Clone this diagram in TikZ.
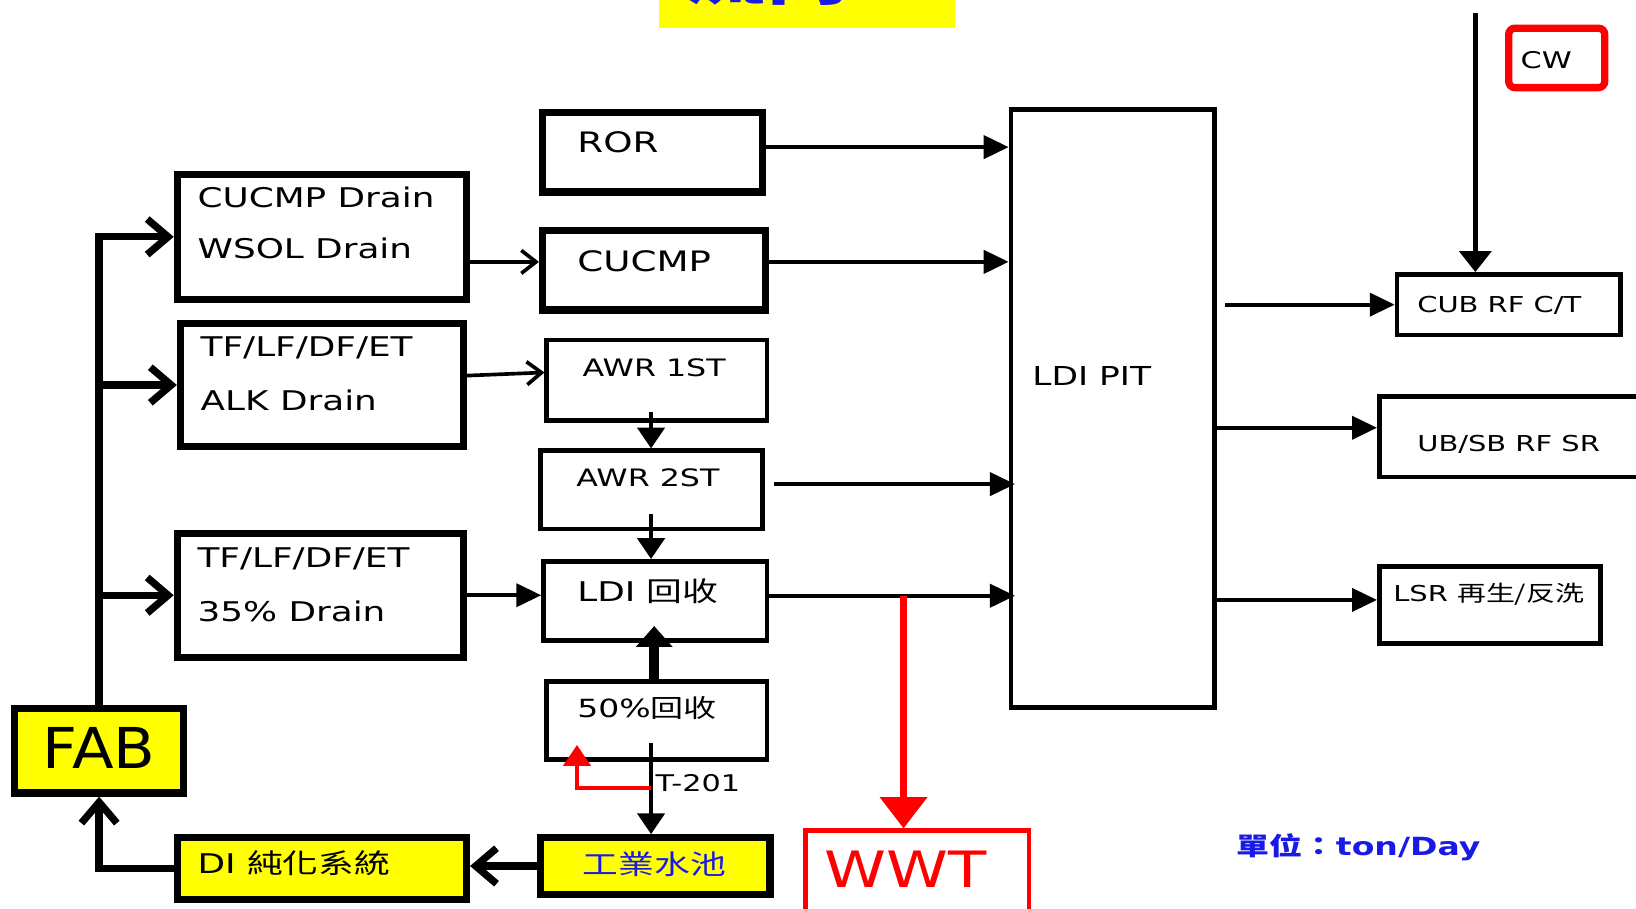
\documentclass[tikz,border=0pt]{standalone}
\usepackage{fontspec}
\setmainfont{DejaVu Sans}[FakeStretch=1.32]
\newfontfamily\cjk{Noto Sans CJK TC}[FakeStretch=1.32]
\newfontfamily\fabfont{DejaVu Sans}[FakeStretch=1.08]
\newfontfamily\widefont{DejaVu Sans}[FakeStretch=1.25]
\usetikzlibrary{arrows.meta,fit}
\definecolor{ylw}{HTML}{FFFF00}
\definecolor{bluetxt}{HTML}{1A1AE6}
\definecolor{rd}{HTML}{FF0000}
\begin{document}
\begin{tikzpicture}[x=0.5pt,y=-0.5pt,
  thickbox/.style={draw=black, line width=3.5pt, inner sep=0pt},
  thinbox/.style={draw=black, line width=2.2pt, inner sep=0pt},
  lbl/.style={inner sep=0pt, anchor=base west, text=black},
  fs/.style={font=\fontsize{#1}{#1}\selectfont},
  bus/.style={line width=3.5pt, -{Straight Barb[length=10pt,width=17pt]}},
  openthin/.style={line width=1.75pt, -{Straight Barb[length=7pt,width=11pt]}},
  flow/.style={line width=2pt, -{Triangle[length=12pt,width=11pt]}},
  vflow/.style={line width=2pt, -{Triangle[length=10pt,width=13pt]}},
  uparrow/.style={line width=5pt, -{Triangle[length=10pt,width=17pt]}},
  redsmall/.style={draw=rd, line width=2pt, -{Triangle[length=10pt,width=13pt]}},
  redbig/.style={draw=rd, line width=3.5pt, -{Triangle[length=15pt,width=22pt]}},
  cwflow/.style={line width=2.5pt, -{Triangle[length=10pt,width=15pt]}}]
\useasboundingbox (0,0) rectangle (1568,871);
\clip (0,0) rectangle (1568,871);

% title (cut off at top)
\fill[ylw] (632,-60) rectangle (915,27);
\node[inner sep=0pt, anchor=base, text=bluetxt, font=\cjk\bfseries\fontsize{30}{30}\selectfont] (title) at (774,0) {流向：};

% boxes
\node[thickbox, fit={(170,167)(447,287)}] (cdr) {};
\node[thickbox, fit={(173,310)(444,428)}] (alk) {};
\node[thickbox, fit={(170,511)(444,630)}] (d35) {};
\node[thickbox, fit={(520,108)(731,184)}] (ror) {};
\node[thickbox, fit={(520,221)(734,297)}] (cucmp) {};
\node[thickbox, fill=ylw, fit={(14,679)(176,760)}] (fab) {};
\node[thickbox, fill=ylw, fit={(170,803)(447,862)}] (di) {};
\node[thickbox, fill=ylw, fit={(518,803)(738,857)}] (pool) {};
\node[thinbox, fit={(524,326)(735,403)}] (awr1) {};
\node[thinbox, fit={(518,432)(731,507)}] (awr2) {};
\node[thinbox, fit={(521,538)(735,614)}] (ldir) {};
\node[thinbox, fit={(524,653)(735,728)}] (r50) {};
\node[thinbox, fit={(969,105)(1164,678)}] (pit) {};
\node[thinbox, fit={(1339,263)(1553,321)}] (cub) {};
\node[thinbox, fit={(1322,380)(1582,457)}] (ubsb) {};
\node[thinbox, fit={(1322,543)(1534,617)}] (lsr) {};
\node[draw=rd, line width=2pt, inner sep=0pt, fit={(772,796)(986,884)}] (wwt) {};
\node[draw=rd, line width=3.5pt, rounded corners=3pt, inner sep=0pt, fit={(1446,27)(1538,84)}] (cw) {};

% texts
\node[lbl, fs=13] (t-cdr1) at (189,198.5) {CUCMP Drain};
\node[lbl, fs=13] (t-cdr2) at (189,247.5) {WSOL Drain};
\node[lbl, fs=13] (t-alk1) at (192,341.5) {TF/LF/DF/ET};
\node[lbl, fs=13] (t-alk2) at (192,393.5) {ALK Drain};
\node[lbl, fs=13] (t-d351) at (189,543.5) {TF/LF/DF/ET};
\node[lbl, fs=13] (t-d352) at (189,595.5) {35\% Drain};
\node[lbl, fs=13.5] (t-ror) at (553,146.5) {ROR};
\node[lbl, fs=13.5] (t-cucmp) at (553,260) {CUCMP};
\node[lbl, fs=11.5, anchor=base] (t-awr1) at (627,360.5) {AWR 1ST};
\node[lbl, fs=11.5, anchor=base] (t-awr2) at (621,466.5) {AWR 2ST};
\node[lbl, fs=13] (t-ldir) at (553,576.5) {LDI {\cjk 回收}};
\node[lbl, fs=12] (t-r50) at (553,688) {50\%{\cjk 回收}};
\node[lbl, fs=13, anchor=base, text=bluetxt] (t-pool) at (627,838) {\cjk 工業水池};
\node[lbl, fs=13] (t-di) at (189,837.5) {DI {\cjk 純化系統}};
\node[lbl, anchor=base, font=\fabfont\fontsize{27}{27}\selectfont] (t-fab) at (95,737) {FAB};
\node[lbl, text=rd, font=\widefont\fontsize{24}{24}\selectfont] (t-wwt) at (790,850.5) {WWT};
\node[lbl, fs=12.5] (t-pit) at (989,369) {LDI PIT};
\node[lbl, fs=11] (t-cw) at (1457,66) {CW};
\node[lbl, fs=10.5] (t-cub) at (1358,299.7) {CUB RF C/T};
\node[lbl, fs=10.5] (t-ubsb) at (1358,432.7) {UB/SB RF SR};
\node[lbl, fs=10.5] (t-lsr) at (1335,576.7) {LSR {\cjk 再生/反洗}};
\node[lbl, fs=12, text=bluetxt] (t-unit) at (1185,820) {{\cjk\bfseries 單位：}{\bfseries ton/Day}};

% left bus
\draw[bus] (fab.north) |- (cdr.west);
\draw[bus] (fab.north |- alk.west) -- (alk.west);
\draw[bus] (fab.north |- d35.west) -- (d35.west);
\draw[bus] (di.west) -| (fab.south);
\draw[bus] (pool.west) -- (pool.west -| di.east);

% drains to treatment
\coordinate (cin) at ([yshift=4pt]cucmp.west);
\draw[openthin] (cdr.east |- cin) -- (cin);
\draw[openthin] ([yshift=4.5pt]alk.east) -- ([yshift=3.75pt]awr1.west);
\draw[flow] (d35.east) -- (d35.east -| ldir.west);

% middle column
\coordinate (a1s) at (624,395);
\coordinate (a2s) at (624,493);
\draw[vflow] (a1s) -- (a1s |- awr2.north);
\draw[vflow] (a2s) -- (a2s |- ldir.north);
\coordinate (upt) at (627,600);
\draw[uparrow] (upt |- r50.north) -- (upt);
\coordinate (t1) at (624,712);
\draw[vflow] (t1) -- (t1 |- pool.north);
\coordinate (t2) at (624,755);
\coordinate (t3) at (553,714);
\draw[redsmall] (t2) -| (t3);
\node[lbl, fs=11] (tlbl) at (628,759) {T-201};

% to LDI PIT
\coordinate (pitin) at ([xshift=3pt]pit.west);
\coordinate (p1) at ([yshift=2.5pt]ror.east);
\draw[flow] (p1) -- (p1 -| pit.west);
\coordinate (p2) at ([yshift=4pt]cucmp.east);
\draw[flow] (p2) -- (p2 -| pit.west);
\coordinate (p3) at ([xshift=4.5pt,yshift=2.75pt]awr2.east);
\draw[flow] (p3) -- (p3 -| pitin);
\coordinate (p4) at ([yshift=2.5pt]ldir.east);
\draw[flow] (p4) -- (p4 -| pitin);
\coordinate (w1) at (866,0);
\draw[redbig] (w1 |- p4) -- (w1 |- wwt.north);

% from LDI PIT
\coordinate (pout) at ([xshift=4pt]pit.east);
\draw[flow] (pout |- cub.west) -- (cub.west);
\coordinate (u1) at ([yshift=4.25pt]ubsb.west);
\draw[flow] (pit.east |- u1) -- (u1);
\coordinate (l1) at ([yshift=2.5pt]lsr.west);
\draw[flow] (pit.east |- l1) -- (l1);

% CW feed
\coordinate (cwtop) at (1414,12);
\draw[cwflow] (cwtop) -- (cwtop |- cub.north);
\end{tikzpicture}
\end{document}
